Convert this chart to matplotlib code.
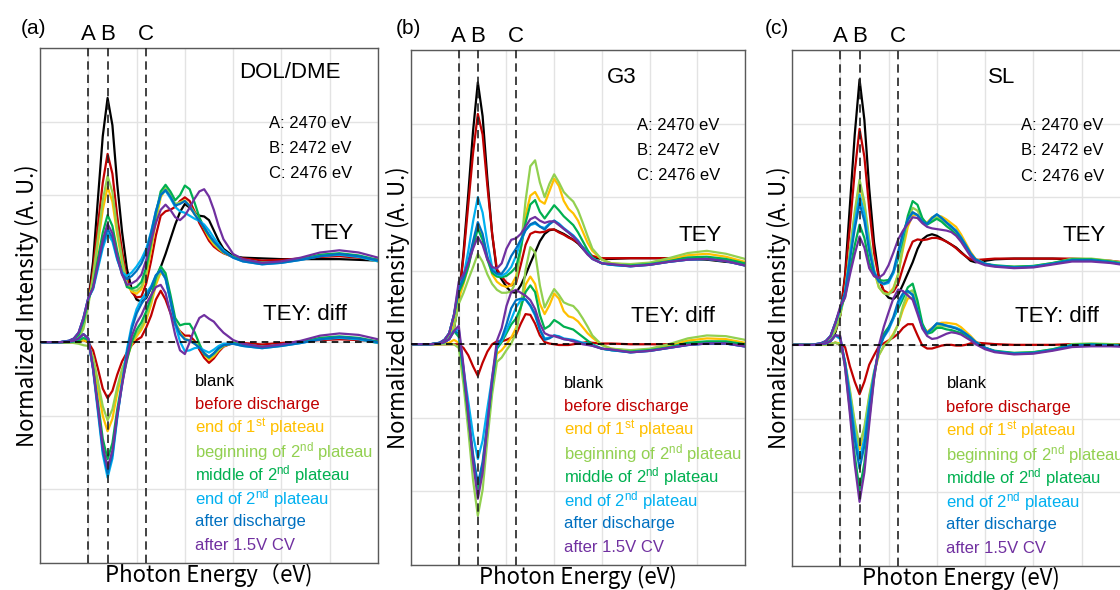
import matplotlib.pyplot as plt
import matplotlib.transforms as mtransforms
import numpy as np

plt.rcParams["font.family"] = ["Liberation Sans", "DejaVu Sans"]
plt.rcParams["mathtext.fontset"] = "custom"
plt.rcParams["mathtext.rm"] = "Liberation Sans"
plt.rcParams["mathtext.it"] = "Liberation Sans:italic"

# photon energy grid (eV)
energy = [2465, 2467, 2468, 2468.5, 2469, 2469.5,
          2470, 2470.5, 2471, 2471.5, 2472, 2472.5, 2473, 2473.5, 2474,
          2474.5, 2475, 2475.5, 2476, 2476.5, 2477, 2477.5, 2478, 2478.5,
          2479, 2479.5, 2480, 2480.5, 2481, 2481.5, 2482, 2482.5, 2483, 2483.5,
          2484, 2485, 2486, 2488, 2490, 2492, 2494, 2496, 2498, 2500]

# (a) DOL/DME, TEY
a_blank = [0, 0, 0.01, 0.03, 0.08, 0.22,
           0.55, 1.1, 1.95, 2.8, 3.32, 2.95, 2.15, 1.5, 1.0,
           0.72, 0.58, 0.55, 0.6, 0.74, 0.87, 1.02, 1.2, 1.4,
           1.6, 1.77, 1.88, 1.83, 1.76, 1.72, 1.71, 1.66, 1.52, 1.38,
           1.27, 1.17, 1.15, 1.14, 1.13, 1.13, 1.13, 1.13, 1.12, 1.11]
a_before = [0, 0, 0.01, 0.03, 0.09, 0.25,
            0.55, 0.99, 1.59, 2.17, 2.56, 2.29, 1.71, 1.24, 0.86,
            0.68, 0.61, 0.62, 0.8, 1.1, 1.45, 1.72, 1.78, 1.8,
            1.84, 1.92, 1.97, 1.92, 1.78, 1.62, 1.5, 1.38, 1.3, 1.25,
            1.21, 1.16, 1.14, 1.11, 1.12, 1.14, 1.16, 1.17, 1.15, 1.12]
a_end1 = [0, 0, 0.01, 0.03, 0.09, 0.25,
          0.55, 0.86, 1.34, 1.8, 2.11, 1.91, 1.46, 1.09, 0.78,
          0.69, 0.66, 0.72, 0.9, 1.25, 1.65, 1.97, 2.08, 1.98,
          1.86, 1.9, 1.93, 1.85, 1.74, 1.66, 1.55, 1.42, 1.33, 1.27,
          1.22, 1.16, 1.12, 1.08, 1.09, 1.13, 1.18, 1.2, 1.17, 1.1]
a_begin2 = [0, 0, 0.01, 0.02, 0.06, 0.18,
            0.5, 0.9, 1.42, 1.93, 2.26, 2.04, 1.54, 1.14, 0.8,
            0.71, 0.7, 0.76, 0.95, 1.3, 1.7, 2.0, 2.1, 2.0,
            1.88, 1.9, 1.92, 1.86, 1.76, 1.67, 1.57, 1.45, 1.35, 1.28,
            1.22, 1.16, 1.12, 1.08, 1.09, 1.13, 1.18, 1.2, 1.17, 1.1]
a_mid2 = [0, 0, 0.01, 0.04, 0.1, 0.28,
          0.58, 0.75, 1.14, 1.49, 1.73, 1.58, 1.24, 0.96, 0.75,
          0.73, 0.75, 0.82, 1.02, 1.35, 1.75, 2.05, 2.14, 2.05,
          1.93, 2.0, 2.13, 2.08, 1.9, 1.7, 1.55, 1.45, 1.37, 1.3,
          1.23, 1.16, 1.12, 1.08, 1.09, 1.13, 1.19, 1.21, 1.18, 1.12]
a_end2 = [0, 0, 0.02, 0.05, 0.13, 0.33,
          0.6, 0.72, 1.0, 1.28, 1.48, 1.37, 1.12, 0.95, 0.9,
          0.95, 1.03, 1.13, 1.27, 1.5, 1.78, 2.0, 2.06, 1.96,
          1.84, 1.78, 1.76, 1.72, 1.68, 1.65, 1.6, 1.52, 1.42, 1.33,
          1.25, 1.15, 1.1, 1.06, 1.08, 1.12, 1.17, 1.19, 1.16, 1.1]
a_after = [0, 0, 0.02, 0.05, 0.13, 0.33,
           0.6, 0.74, 1.04, 1.33, 1.54, 1.42, 1.14, 0.92, 0.86,
           0.9, 0.97, 1.07, 1.22, 1.48, 1.78, 2.0, 2.07, 1.98,
           1.86, 1.88, 1.92, 1.85, 1.74, 1.65, 1.56, 1.46, 1.37, 1.3,
           1.23, 1.15, 1.1, 1.06, 1.08, 1.12, 1.17, 1.2, 1.17, 1.11]
a_cv = [0, 0, 0.02, 0.05, 0.13, 0.33,
        0.6, 0.74, 1.07, 1.39, 1.61, 1.48, 1.17, 0.92, 0.78,
        0.8, 0.84, 0.92, 1.12, 1.38, 1.62, 1.8, 1.87, 1.8,
        1.7, 1.66, 1.72, 1.83, 1.95, 2.05, 2.08, 1.98, 1.8, 1.58,
        1.4, 1.2, 1.13, 1.08, 1.1, 1.15, 1.22, 1.25, 1.22, 1.15]

# (b) G3, TEY
b_blank = [0, 0, 0.01, 0.03, 0.08, 0.22,
           0.6, 1.25, 2.05, 2.9, 3.56, 3.1, 2.25, 1.5, 0.98,
           0.88, 0.78, 0.71, 0.7, 0.8, 0.94, 1.1, 1.25, 1.4,
           1.5, 1.55, 1.56, 1.53, 1.5, 1.46, 1.42, 1.37, 1.3, 1.23,
           1.18, 1.16, 1.16, 1.17, 1.17, 1.17, 1.16, 1.15, 1.12, 1.1]
b_before = [0, 0, 0.01, 0.03, 0.08, 0.22,
            0.6, 1.2, 1.9, 2.6, 3.13, 2.85, 2.15, 1.5, 1.02,
            0.92, 0.84, 0.8, 0.83, 1.08, 1.35, 1.5, 1.53, 1.52,
            1.53, 1.56, 1.56, 1.52, 1.49, 1.45, 1.42, 1.38, 1.32, 1.26,
            1.2, 1.17, 1.17, 1.17, 1.17, 1.17, 1.17, 1.16, 1.14, 1.11]
b_end1 = [0, 0, 0.01, 0.04, 0.1, 0.28,
          0.62, 0.82, 1.05, 1.37, 1.63, 1.47, 1.18, 0.95, 0.85,
          0.8, 0.78, 0.8, 0.92, 1.3, 1.75, 2.02, 2.07, 1.95,
          1.91, 2.08, 2.25, 2.15, 1.95, 1.84, 1.78, 1.68, 1.53, 1.38,
          1.27, 1.15, 1.1, 1.08, 1.1, 1.15, 1.21, 1.23, 1.19, 1.12]
b_begin2 = [0, 0, 0.01, 0.03, 0.08, 0.22,
            0.55, 0.7, 0.88, 1.05, 1.23, 1.12, 0.95, 0.82, 0.74,
            0.7, 0.7, 0.72, 0.85, 1.3, 1.95, 2.42, 2.5, 2.2,
            2.0, 2.18, 2.31, 2.2, 2.07, 2.0, 1.94, 1.82, 1.65, 1.47,
            1.3, 1.15, 1.1, 1.09, 1.11, 1.17, 1.24, 1.27, 1.23, 1.16]
b_mid2 = [0, 0, 0.02, 0.06, 0.15, 0.4,
          0.7, 0.85, 1.05, 1.33, 1.57, 1.42, 1.15, 0.97, 0.92,
          0.91, 0.93, 0.98, 1.05, 1.3, 1.65, 1.9, 1.96, 1.8,
          1.71, 1.8, 1.89, 1.82, 1.74, 1.68, 1.62, 1.52, 1.4, 1.28,
          1.18, 1.1, 1.08, 1.07, 1.09, 1.13, 1.18, 1.19, 1.16, 1.1]
b_end2 = [0, 0, 0.02, 0.06, 0.15, 0.4,
          0.8, 0.92, 1.27, 1.67, 2.0, 1.79, 1.38, 1.05, 0.95,
          0.93, 0.97, 1.05, 1.2, 1.4, 1.55, 1.62, 1.64, 1.6,
          1.58, 1.64, 1.68, 1.64, 1.58, 1.53, 1.48, 1.41, 1.32, 1.24,
          1.17, 1.1, 1.08, 1.06, 1.08, 1.12, 1.15, 1.16, 1.13, 1.07]
b_after = [0, 0, 0.02, 0.06, 0.15, 0.4,
           0.75, 0.9, 1.12, 1.4, 1.66, 1.5, 1.19, 1.0, 0.96,
           0.96, 1.05, 1.2, 1.3, 1.42, 1.55, 1.63, 1.66, 1.6,
           1.56, 1.63, 1.68, 1.63, 1.57, 1.52, 1.47, 1.4, 1.31, 1.23,
           1.16, 1.1, 1.08, 1.06, 1.08, 1.12, 1.15, 1.16, 1.13, 1.07]
b_cv = [0, 0, 0.02, 0.06, 0.15, 0.4,
        0.85, 0.95, 1.1, 1.3, 1.46, 1.35, 1.15, 1.05, 1.03,
        1.1, 1.3, 1.42, 1.44, 1.5, 1.6, 1.7, 1.73, 1.68,
        1.65, 1.67, 1.67, 1.62, 1.57, 1.52, 1.46, 1.39, 1.3, 1.22,
        1.16, 1.1, 1.09, 1.06, 1.08, 1.12, 1.15, 1.16, 1.13, 1.07]

# (c) SL, TEY
c_blank = [0, 0, 0.01, 0.03, 0.07, 0.17,
           0.4, 0.95, 1.89, 2.85, 3.6, 3.05, 2.12, 1.39, 0.92,
           0.72, 0.64, 0.62, 0.68, 0.82, 0.97, 1.12, 1.3, 1.43,
           1.48, 1.5, 1.48, 1.44, 1.4, 1.36, 1.32, 1.26, 1.2, 1.14,
           1.12, 1.14, 1.16, 1.17, 1.17, 1.17, 1.16, 1.15, 1.13, 1.1]
c_before = [0, 0, 0.01, 0.03, 0.08, 0.2,
            0.4, 0.92, 1.6, 2.35, 2.93, 2.55, 1.85, 1.25, 0.9,
            0.74, 0.7, 0.72, 0.83, 1.05, 1.25, 1.4, 1.43, 1.42,
            1.43, 1.45, 1.45, 1.43, 1.4, 1.36, 1.31, 1.25, 1.2, 1.16,
            1.15, 1.16, 1.17, 1.17, 1.17, 1.17, 1.17, 1.16, 1.14, 1.11]
c_end1 = [0, 0, 0.01, 0.03, 0.08, 0.2,
          0.42, 0.71, 1.25, 1.77, 2.18, 1.9, 1.4, 1.0, 0.78,
          0.7, 0.69, 0.77, 0.96, 1.3, 1.6, 1.76, 1.76, 1.68,
          1.66, 1.73, 1.76, 1.74, 1.7, 1.65, 1.6, 1.5, 1.38, 1.26,
          1.17, 1.1, 1.07, 1.05, 1.06, 1.1, 1.16, 1.16, 1.13, 1.09]
c_begin2 = [0, 0, 0.01, 0.03, 0.08, 0.2,
            0.4, 0.72, 1.28, 1.81, 2.24, 1.94, 1.43, 1.03, 0.78,
            0.7, 0.68, 0.75, 0.96, 1.35, 1.68, 1.86, 1.82, 1.7,
            1.65, 1.7, 1.73, 1.7, 1.65, 1.6, 1.55, 1.46, 1.35, 1.24,
            1.16, 1.1, 1.07, 1.06, 1.07, 1.11, 1.17, 1.17, 1.14, 1.1]
c_mid2 = [0, 0, 0.02, 0.05, 0.12, 0.3,
          0.48, 0.65, 1.01, 1.35, 1.63, 1.45, 1.12, 0.94, 0.88,
          0.87, 0.88, 0.98, 1.17, 1.45, 1.75, 1.95, 1.9, 1.72,
          1.63, 1.67, 1.71, 1.67, 1.61, 1.56, 1.5, 1.42, 1.33, 1.22,
          1.15, 1.1, 1.08, 1.06, 1.07, 1.11, 1.16, 1.16, 1.13, 1.09]
c_end2 = [0, 0, 0.02, 0.05, 0.12, 0.3,
          0.48, 0.71, 1.2, 1.66, 2.04, 1.78, 1.33, 1.0, 0.86,
          0.82, 0.84, 0.97, 1.21, 1.5, 1.7, 1.79, 1.76, 1.67,
          1.64, 1.72, 1.77, 1.72, 1.66, 1.61, 1.55, 1.46, 1.35, 1.24,
          1.16, 1.1, 1.07, 1.05, 1.06, 1.1, 1.15, 1.15, 1.12, 1.08]
c_after = [0, 0, 0.02, 0.05, 0.12, 0.3,
           0.5, 0.71, 1.15, 1.57, 1.92, 1.68, 1.27, 0.98, 0.86,
           0.83, 0.86, 1.0, 1.27, 1.52, 1.7, 1.8, 1.76, 1.67,
           1.64, 1.72, 1.77, 1.72, 1.66, 1.6, 1.54, 1.45, 1.35, 1.24,
           1.16, 1.1, 1.07, 1.05, 1.06, 1.1, 1.15, 1.15, 1.12, 1.08]
c_cv = [0, 0, 0.02, 0.05, 0.12, 0.3,
        0.52, 0.64, 0.95, 1.23, 1.47, 1.32, 1.04, 0.93, 0.91,
        0.96, 1.08, 1.25, 1.43, 1.55, 1.64, 1.73, 1.72, 1.65,
        1.6, 1.58, 1.57, 1.56, 1.55, 1.53, 1.48, 1.4, 1.3, 1.2,
        1.13, 1.08, 1.06, 1.04, 1.05, 1.09, 1.13, 1.13, 1.11, 1.07]

series_names = ["blank", "before discharge", "end of 1$^{\\mathrm{st}}$ plateau",
                "beginning of 2$^{\\mathrm{nd}}$ plateau", "middle of 2$^{\\mathrm{nd}}$ plateau",
                "end of 2$^{\\mathrm{nd}}$ plateau", "after discharge", "after 1.5V CV"]
series_colors = ["black", "#C00000", "#FFC000", "#92D050", "#00B050", "#00B0F0", "#0070C0", "#7030A0"]

marks = [2470, 2472, 2476]
mark_names = ["A", "B", "C"]
mark_texts = ["A: 2470 eV", "B: 2472 eV", "C: 2476 eV"]

panels = [
    ("(a)", "DOL/DME", [a_blank, a_before, a_end1, a_begin2, a_mid2, a_end2, a_after, a_cv]),
    ("(b)", "G3", [b_blank, b_before, b_end1, b_begin2, b_mid2, b_end2, b_after, b_cv]),
    ("(c)", "SL", [c_blank, c_before, c_end1, c_begin2, c_mid2, c_end2, c_after, c_cv]),
]

# layout in figure fractions
ax_rects = [[0.0357, 0.0458, 0.3018, 0.8729],
            [0.367, 0.0424, 0.2982, 0.8729],
            [0.7071, 0.0407, 0.3018, 0.8746]]
tag_x = [0.030, 0.365, 0.694]
title_xy = [(2490.9, 3.67), (2487.1, 3.63), (2486.7, 3.63)]
xlabels = ["Photon Energy\uff08eV)", "Photon Energy (eV)", "Photon Energy (eV)"]

fig = plt.figure(figsize=(11.2, 5.9), dpi=100)
x = np.array(energy)

for i, (tag, title, curves) in enumerate(panels):
    ax = fig.add_axes(ax_rects[i])
    blank = np.array(curves[0])
    for vals, col in zip(curves, series_colors):
        ax.plot(x, vals, color=col, lw=1.6, zorder=2)
    # difference spectra (sample - blank)
    ax.plot(x, blank - blank, color="black", lw=1.2, ls=(0, (4, 3)), zorder=3)
    for vals, col in zip(curves[1:], series_colors[1:]):
        ax.plot(x, np.array(vals) - blank, color=col, lw=1.6, zorder=2)

    for m in marks:
        ax.axvline(m, color="#222222", lw=1.2, ls=(0, (5, 3)), zorder=3)
    trans = mtransforms.blended_transform_factory(ax.transData, ax.transAxes)
    for m, n in zip(marks, mark_names):
        ax.text(m, 1.026, n, transform=trans, ha="center", va="center", fontsize=16, clip_on=False)

    ax.set_xlim(2465, 2500)
    ax.set_ylim(-3, 4)
    ax.set_xticks(np.arange(2465, 2501, 5))
    ax.set_yticks(np.arange(-3, 5, 1))
    ax.tick_params(length=0, labelbottom=False, labelleft=False)
    ax.grid(True, color="#e3e3e3", lw=1.0, zorder=0)
    ax.set_axisbelow(True)
    for sp in ax.spines.values():
        sp.set_color("#595959")
        sp.set_linewidth(1.0)

    ax.text(title_xy[i][0], title_xy[i][1], title, ha="center", va="center", fontsize=16)
    for j, t in enumerate(mark_texts):
        ax.text(2488.7, 2.97 - 0.34 * j, t, ha="left", va="center", fontsize=12)
    ax.text(2495.3, 1.48, "TEY", ha="center", va="center", fontsize=16)
    ax.text(2492.4, 0.38, "TEY: diff", ha="center", va="center", fontsize=16)
    for j, (nm, col) in enumerate(zip(series_names, series_colors)):
        ax.text(2481.0, -0.53 - 0.318 * j, nm, color=col, ha="left", va="center", fontsize=12)

    ax.set_xlabel(xlabels[i], family=["Noto Sans CJK JP", "DejaVu Sans"], fontsize=16, labelpad=0)
    ax.set_ylabel("Normalized Intensity (A. U.)", family=["Noto Sans CJK JP", "DejaVu Sans"],
                  fontsize=16, labelpad=1)
    fig.text(tag_x[i], 0.952, tag, ha="center", va="center", fontsize=15)

fig.savefig("out.png", dpi=100)
